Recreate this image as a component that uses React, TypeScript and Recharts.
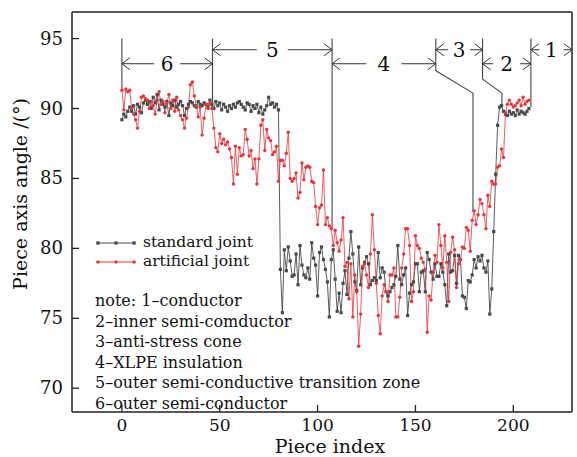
import React from "react";
import { LineChart, Line, XAxis, YAxis, ReferenceLine } from "recharts";

// 标准接头 / 人工接头 各切片的轴向角度（°），索引 0..208
const standardJoint: number[] = [
  // 0-47 outer semi-conductor
  89.2, 89.6, 89.4, 89.8, 90.1, 89.8, 90.2, 89.6, 90.3, 90.1,
  89.7, 90.4, 90.6, 90.3, 90.5, 90.0, 90.8, 90.4, 91.0, 89.9,
  90.6, 90.3, 90.1, 90.5, 89.5, 90.4, 90.2, 90.6, 90.1, 90.3,
  90.5, 90.2, 89.5, 90.0, 90.3, 90.5, 90.4, 90.2, 90.1, 90.5,
  90.3, 90.2, 90.4, 90.3, 90.1, 90.6, 90.3, 90.0,
  // 48-80 transition zone
  90.5, 90.2, 90.4, 89.9, 90.3, 90.1, 89.8, 90.2, 90.0, 90.3,
  90.1, 90.4, 90.5, 90.3, 90.1, 89.9, 90.4, 90.3, 89.8, 90.2,
  90.0, 90.3, 89.7, 90.1, 89.6, 89.9, 90.2, 90.8, 90.3, 90.4,
  90.1, 90.3, 89.9,
  // 81-109
  78.5, 75.4, 79.9, 78.4, 80.1, 79.1, 78.0, 78.1, 79.6, 77.4,
  80.2, 78.8, 78.1, 77.9, 78.6, 77.8, 80.4, 79.3, 78.8, 76.6,
  79.7, 80.1, 79.2, 78.5, 77.6, 75.1, 79.2, 79.9, 77.8,
  // 110-149
  75.5, 76.8, 75.4, 77.5, 78.4, 76.7, 79.3, 81.2, 79.6, 77.6,
  77.0, 80.1, 77.4, 78.6, 79.0, 79.4, 78.9, 77.4, 77.7, 77.9,
  77.7, 79.7, 77.9, 78.6, 78.3, 76.9, 76.6, 76.9, 77.2, 77.4,
  78.0, 80.2, 77.8, 77.4, 78.1, 78.6, 75.2, 76.8, 77.4, 77.6,
  // 150-189
  78.9, 78.9, 76.9, 78.3, 78.4, 76.9, 79.7, 79.2, 78.3, 77.8,
  78.9, 78.0, 78.0, 78.9, 78.3, 77.4, 75.9, 79.6, 78.3, 78.4,
  79.5, 77.5, 79.5, 79.2, 76.6, 76.5, 75.7, 77.7, 77.6, 78.1,
  79.2, 78.6, 79.4, 79.1, 79.5, 78.6, 78.3, 79.1, 75.3, 77.1,
  // 190-208
  81.2, 85.3, 88.8, 90.1, 90.2, 89.8, 89.6, 89.5, 89.8, 89.6,
  89.7, 89.5, 89.9, 89.6, 89.8, 89.7, 89.6, 89.8, 90.0,
];

const artificialJoint: number[] = [
  // 0-47
  91.3, 89.9, 91.4, 91.2, 91.3, 90.0, 89.6, 89.2, 88.6, 89.8,
  90.8, 90.9, 90.7, 90.6, 90.0, 90.5, 90.2, 89.6, 90.6, 91.2,
  90.3, 90.5, 89.7, 90.4, 91.0, 90.0, 90.6, 89.8, 90.8, 89.9,
  89.5, 89.2, 88.6, 89.3, 90.1, 91.7, 91.9, 90.9, 90.2, 89.4,
  90.1, 88.1, 89.3, 90.3, 90.0, 90.4, 90.0, 88.6,
  // 48-80
  87.2, 86.9, 88.2, 87.5, 87.8, 87.4, 87.6, 87.1, 86.5, 84.6,
  87.3, 85.3, 87.2, 86.6, 86.7, 88.5, 87.8, 86.6, 87.0, 85.7,
  86.4, 84.6, 86.4, 88.8, 89.2, 87.0, 88.5, 87.9, 87.7, 86.7,
  86.9, 87.3, 84.8,
  // 81-109
  86.3, 86.3, 85.9, 86.8, 88.3, 85.0, 84.8, 85.0, 85.4, 83.6,
  84.0, 86.1, 84.9, 85.8, 85.9, 85.8, 84.8, 84.7, 83.0, 81.7,
  82.9, 83.1, 85.6, 81.7, 82.2, 81.6, 81.4, 80.2, 81.3,
  // 110-149
  80.4, 79.8, 80.6, 82.2, 78.7, 79.0, 76.4, 78.9, 75.1, 78.1,
  76.9, 73.0, 75.3, 78.7, 78.9, 78.1, 77.2, 79.6, 82.4, 79.9,
  77.5, 75.2, 73.9, 76.6, 77.4, 76.9, 76.2, 78.1, 78.1, 78.6,
  75.1, 75.1, 76.5, 78.6, 79.6, 81.4, 81.4, 80.2, 76.2, 76.9,
  // 150-189
  80.9, 80.2, 80.0, 79.3, 79.0, 78.5, 74.0, 76.6, 76.3, 78.3,
  79.5, 79.0, 81.7, 80.2, 78.6, 80.9, 79.0, 76.2, 79.7, 80.8,
  79.9, 77.2, 78.9, 79.2, 80.1, 80.0, 81.5, 81.3, 79.8, 82.0,
  82.7, 81.7, 82.4, 83.5, 83.2, 82.4, 81.4, 83.8, 83.0, 84.8,
  // 190-208
  84.6, 84.6, 85.8, 85.9, 87.1, 86.5, 89.7, 90.3, 90.6, 90.3,
  90.1, 90.2, 90.4, 90.6, 90.2, 90.8, 90.3, 90.5, 90.6,
];

const xTicks = [0, 50, 100, 150, 200];
const yTicks = [70, 75, 80, 85, 90, 95];

const notes = [
  "note: 1–conductor",
  "2–inner semi-comductor",
  "3–anti-stress cone",
  "4–XLPE insulation",
  "5–outer semi-conductive transition zone",
  "6–outer semi-conductor",
];

// 分区边界（切片索引）
const zoneEdges = [0, 46.3, 107.4, 160.4, 184.3, 209];
const zoneLabels = ["6", "5", "4", "3", "2", "1"];

const X_MIN = -25.5;
const X_MAX = 230;
const Y_MIN = 68.3;
const Y_MAX = 96.9;

const GRAY = "#4a4a4a";
const RED = "#e6343d";
const FONT = "'DejaVu Serif', serif";

const data = standardJoint.map((v, i) => ({
  idx: i,
  standard: v,
  artificial: artificialJoint[i],
}));

const SquareDot = (props: any) => {
  const { cx, cy, index } = props;
  if (cx == null || cy == null) return <g key={`s${index}`} />;
  return <rect key={`s${index}`} x={cx - 1.6} y={cy - 1.6} width={3.2} height={3.2} fill={GRAY} />;
};

const CircleDot = (props: any) => {
  const { cx, cy, index } = props;
  if (cx == null || cy == null) return <g key={`c${index}`} />;
  return <circle key={`c${index}`} cx={cx} cy={cy} r={1.7} fill={RED} />;
};

const XTick = (props: any) => {
  const { x, y, payload } = props;
  return (
    <g>
      <line x1={x} y1={y} x2={x} y2={y - 7} stroke="#222" strokeWidth={1.3} />
      <text x={x} y={y + 19} textAnchor="middle" fontSize={17} fontFamily={FONT} fill="#111">
        {payload.value}
      </text>
    </g>
  );
};

const YTick = (props: any) => {
  const { x, y, payload } = props;
  return (
    <g>
      <line x1={x} y1={y} x2={x + 7} y2={y} stroke="#222" strokeWidth={1.3} />
      <text x={x - 9} y={y + 6} textAnchor="end" fontSize={18} fontFamily={FONT} fill="#111">
        {payload.value}
      </text>
    </g>
  );
};

// 双向箭头 |<- n ->|
const arrowShape = (label: string, gap: number) => (p: any) => {
  const { x1, y1, x2 } = p;
  const cx = (x1 + x2) / 2;
  const y = y1;
  const c = "#333";
  return (
    <g>
      <line x1={x1} y1={y} x2={cx - gap / 2} y2={y} stroke={c} strokeWidth={1} />
      <line x1={cx + gap / 2} y1={y} x2={x2} y2={y} stroke={c} strokeWidth={1} />
      <polyline points={`${x1 + 8},${y - 6} ${x1},${y} ${x1 + 8},${y + 6}`} fill="none" stroke={c} strokeWidth={1} />
      <polyline points={`${x2 - 8},${y - 6} ${x2},${y} ${x2 - 8},${y + 6}`} fill="none" stroke={c} strokeWidth={1} />
      <text x={cx} y={y + 7} textAnchor="middle" fontSize={20} fontFamily={FONT} fill="#111">
        {label}
      </text>
    </g>
  );
};

// 各分区竖线（含折线）
const boundarySegments: { x: number; y: number }[][] = [
  [{ x: 0, y: 95 }, { x: 0, y: 91.4 }],
  [{ x: 46.3, y: 95 }, { x: 46.3, y: 90.1 }],
  [{ x: 107.4, y: 95 }, { x: 107.4, y: 81.5 }],
  [{ x: 160.4, y: 95 }, { x: 160.4, y: 92.7 }],
  [{ x: 160.4, y: 92.7 }, { x: 179.4, y: 91.1 }],
  [{ x: 179.4, y: 91.1 }, { x: 179.4, y: 82.6 }],
  [{ x: 184.3, y: 95 }, { x: 184.3, y: 92.1 }],
  [{ x: 184.3, y: 92.1 }, { x: 194.2, y: 91.1 }],
  [{ x: 194.2, y: 91.1 }, { x: 194.2, y: 90.1 }],
  [{ x: 209, y: 95 }, { x: 209, y: 90.1 }],
];

const arrowRows = [93.2, 94.2];
const arrowGaps = [26, 31, 35, 22, 27, 24];

const LegendSample = ({ color, square }: { color: string; square: boolean }) => (
  <svg width={44} height={12} style={{ verticalAlign: "middle" }}>
    <line x1={2} y1={6} x2={42} y2={6} stroke={color} strokeWidth={1} />
    {[4, 22, 40].map((cx) =>
      square ? (
        <rect key={cx} x={cx - 1.6} y={4.4} width={3.2} height={3.2} fill={color} />
      ) : (
        <circle key={cx} cx={cx} cy={6} r={1.7} fill={color} />
      )
    )}
  </svg>
);

export default function App() {
  return (
    <div style={{ position: "absolute", left: 0, top: 0, width: 577, height: 457, background: "#fff", fontFamily: FONT }}>
      <LineChart width={577} height={457} data={data} margin={{ top: 12, right: 5, bottom: 0, left: 0 }}>
        <XAxis
          type="number"
          dataKey="idx"
          domain={[X_MIN, X_MAX]}
          ticks={xTicks}
          allowDataOverflow
          height={45}
          tickSize={0}
          tickMargin={0}
          tickLine={false}
          tick={<XTick />}
          axisLine={{ stroke: "#222", strokeWidth: 1.5 }}
        />
        <YAxis
          type="number"
          domain={[Y_MIN, Y_MAX]}
          ticks={yTicks}
          allowDataOverflow
          width={72}
          tickSize={0}
          tickMargin={0}
          tickLine={false}
          tick={<YTick />}
          axisLine={{ stroke: "#222", strokeWidth: 1.5 }}
          label={{
            content: () => (
              <text x={27} y={194} transform="rotate(-90 27 194)" textAnchor="middle" fontSize={19} fontFamily={FONT} fill="#111">
                Piece axis angle /(°)
              </text>
            ),
          }}
        />
        <ReferenceLine y={Y_MAX} stroke="#222" strokeWidth={1.5} ifOverflow="visible" />
        <ReferenceLine x={X_MAX} stroke="#222" strokeWidth={1.5} ifOverflow="visible" />

        {boundarySegments.map((seg, i) => (
          <ReferenceLine key={`b${i}`} segment={seg} stroke="#444" strokeWidth={1.1} ifOverflow="visible" />
        ))}
        {zoneLabels.map((lab, i) => {
          const x0 = zoneEdges[i];
          const x1 = i + 1 < zoneEdges.length ? zoneEdges[i + 1] : X_MAX;
          const yv = arrowRows[i % 2];
          return (
            <ReferenceLine
              key={`a${i}`}
              segment={[{ x: x0, y: yv }, { x: x1, y: yv }]}
              ifOverflow="visible"
              shape={arrowShape(lab, arrowGaps[i])}
            />
          );
        })}

        <Line
          type="linear"
          dataKey="standard"
          stroke={GRAY}
          strokeWidth={0.9}
          dot={SquareDot}
          activeDot={false}
          isAnimationActive={false}
        />
        <Line
          type="linear"
          dataKey="artificial"
          stroke={RED}
          strokeWidth={0.8}
          dot={CircleDot}
          activeDot={false}
          isAnimationActive={false}
        />
      </LineChart>

      <div style={{ position: "absolute", left: 330, top: 457, transform: "translate(-50%, -100%)", fontSize: 19, lineHeight: "19px", paddingBottom: 1, whiteSpace: "nowrap", color: "#111" }}>
        Piece index
      </div>

      <div style={{ position: "absolute", left: 94, top: 233, fontSize: 15.5, lineHeight: "19px", color: "#111" }}>
        <div style={{ whiteSpace: "nowrap" }}>
          <LegendSample color={GRAY} square={true} /> standard joint
        </div>
        <div style={{ whiteSpace: "nowrap" }}>
          <LegendSample color={RED} square={false} /> artificial joint
        </div>
      </div>

      <div style={{ position: "absolute", left: 95, top: 291, fontSize: 16, lineHeight: "20.5px", color: "#111" }}>
        {notes.map((n) => (
          <div key={n} style={{ whiteSpace: "nowrap" }}>
            {n}
          </div>
        ))}
      </div>
    </div>
  );
}
